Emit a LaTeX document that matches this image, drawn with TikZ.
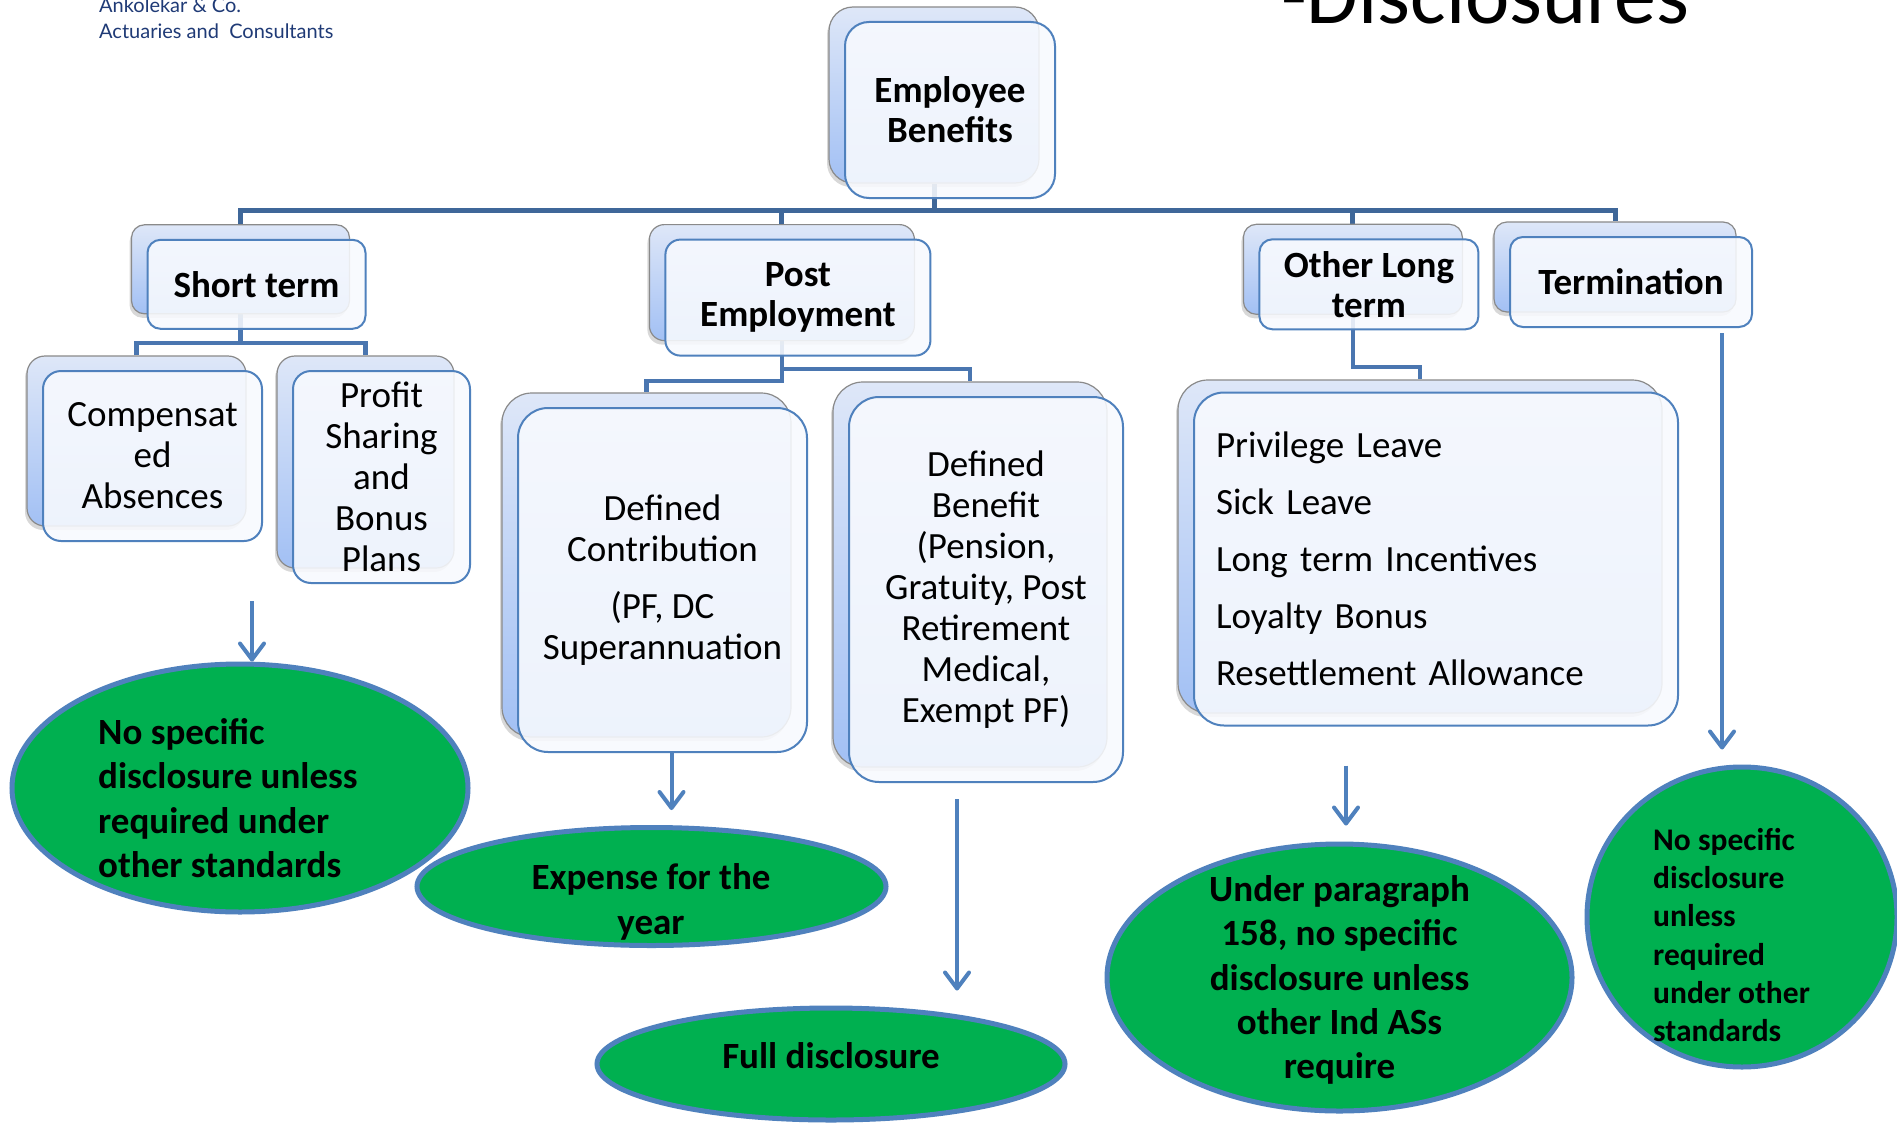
\documentclass[tikz,border=0pt]{standalone}
\usepackage{fontspec}
\setmainfont{Carlito}
\newfontfamily\logofont{Lato}
\usetikzlibrary{arrows.meta,shadows,shapes.geometric}
\definecolor{bkTop}{HTML}{DEE7F8}
\definecolor{bkBot}{HTML}{A2C0F4}
\definecolor{bkLine}{HTML}{8A8A8A}
\definecolor{frLine}{HTML}{4F81BD}
\definecolor{frFill}{HTML}{F8FAFE}
\definecolor{busCol}{HTML}{3F6799}
\definecolor{wireCol}{HTML}{4A76B0}
\definecolor{arrCol}{HTML}{4F81BD}
\definecolor{ellFill}{HTML}{00B050}
\definecolor{ellLine}{HTML}{4F81BD}
\definecolor{navy}{HTML}{1F3A76}
\newcommand\fReg{\fontsize{37}{41}\selectfont}
\newcommand\fBold{\fontsize{37}{40}\selectfont\bfseries}
\newcommand\fList{\fontsize{37}{57}\selectfont}
\newcommand\fEll{\fontsize{37}{44.3}\selectfont\bfseries}
\newcommand\fEllS{\fontsize{31.5}{38.3}\selectfont\bfseries}
\newcommand\fLogo{\logofont\fontsize{20}{24}\selectfont}
\pgfdeclarelayer{paper}
\pgfdeclarelayer{wires}
\pgfsetlayers{paper,wires,main}
\tikzset{
  backbox/.style={draw=bkLine, line width=1.2pt, rounded corners=#1,
    top color=bkTop, bottom color=bkBot,
    drop shadow={shadow xshift=-2pt, shadow yshift=-4pt, opacity=0.3}},
  frontbox/.style={draw=frLine, line width=2pt, rounded corners=#1,
    fill=frFill, fill opacity=0.88, text opacity=1, align=center, inner sep=0pt},
  busline/.style={draw=busCol, line width=5pt},
  wire/.style={draw=wireCol, line width=4.5pt},
  arr/.style={draw=arrCol, line width=4pt, -{Straight Barb[length=16pt, width=24pt, round]}},
  ell/.style={ellipse, draw=ellLine, line width=5pt, fill=ellFill, inner sep=0pt},
  etxt/.style={inner sep=0pt, text=black}
}
\begin{document}
\begin{tikzpicture}[x=1pt,y=-1pt]
\begin{pgfonlayer}{paper}
\fill[white] (0,0) rectangle (1897,1124);
\end{pgfonlayer}
\useasboundingbox (0,0) rectangle (1897,1124);

% header texts
\node[anchor=base west, inner sep=0pt, font=\fLogo, text=navy] (logoA) at (99,13) {Ankolekar \& Co.};
\node[anchor=base west, inner sep=0pt, font=\fLogo, text=navy] (logoB) at (99,38) {Actuaries and\ \ Consultants};
\node[anchor=base west, inner sep=0pt, font=\fontsize{84}{90}\selectfont] (title) at (1281,24) {-Disclosures};

% back boxes
\node[backbox=24pt, minimum width=210pt, minimum height=176pt] (rootB) at (934,95) {};
\node[backbox=13pt, minimum width=218pt, minimum height=89pt] (stB) at (240.5,269.3) {};
\node[backbox=15pt, minimum width=265pt, minimum height=116pt] (peB) at (781.9,282.6) {};
\node[backbox=13pt, minimum width=219pt, minimum height=90pt] (olB) at (1352.9,269.3) {};
\node[backbox=13pt, minimum width=242pt, minimum height=90pt] (tmB) at (1615,267) {};
\node[backbox=18pt, minimum width=219pt, minimum height=170pt] (cpB) at (136.5,441) {};
\node[backbox=18pt, minimum width=177pt, minimum height=212pt] (pfB) at (365.5,462) {};
\node[backbox=30pt, minimum width=289pt, minimum height=344pt] (dcB) at (646.5,565) {};
\node[backbox=30pt, minimum width=274pt, minimum height=385pt] (dbB) at (970,574.5) {};
\node[backbox=30pt, minimum width=484pt, minimum height=333pt] (lstB) at (1420,546.5) {};

% connectors
\begin{pgfonlayer}{wires}
\coordinate (busJ) at (934,210);
\draw[busline] (rootB.south) -- (busJ);
\draw[busline] (stB.north) |- (busJ) -| (tmB.north);
\draw[busline] (peB.north |- busJ) -- (peB.north);
\draw[busline] (olB.north |- busJ) -- (olB.north);
\coordinate (stJ) at (240.5,343);
\draw[wire] (stB.south) -- (stJ);
\draw[wire] (cpB.north) |- (stJ) -| (pfB.north);
\coordinate (peL) at (781.9,381);
\coordinate (peR) at (781.9,369);
\draw[wire] (peB.south) -- (peL) -| (dcB.north);
\draw[wire] (peR) -| (dbB.north);
\coordinate (olJ) at (1352.9,367);
\draw[wire] (olB.south) -- (olJ) -| (lstB.north);
\end{pgfonlayer}

% front boxes
\node[frontbox=24pt, minimum width=210pt, minimum height=176pt, font=\fBold] (root) at (950,110) {Employee\\Benefits};
\node[frontbox=13pt, minimum width=218pt, minimum height=89pt, font=\fBold] (st) at (256.5,284.3) {Short term};
\node[frontbox=15pt, minimum width=265pt, minimum height=116pt, font=\fBold] (pe) at (797.9,297.6) {Post\\Employment};
\node[frontbox=13pt, minimum width=219pt, minimum height=90pt, font=\fBold] (ol) at (1368.9,284.3) {Other Long\\term};
\node[frontbox=13pt, minimum width=242pt, minimum height=90pt, font=\fBold] (tm) at (1631,282) {Termination};
\node[frontbox=18pt, minimum width=219pt, minimum height=170pt, font=\fReg] (cp) at (152.5,456) {Compensat\\ed\\Absences};
\node[frontbox=18pt, minimum width=177pt, minimum height=212pt, font=\fReg] (pf) at (381.5,477) {Profit\\Sharing\\and\\Bonus\\Plans};
\node[frontbox=30pt, minimum width=289pt, minimum height=344pt, font=\fReg] (dc) at (662.5,580) {Defined\\Contribution\\[16pt](PF, DC\\Superannuation};
\node[frontbox=30pt, minimum width=274pt, minimum height=385pt, font=\fReg] (db) at (986,589.5) {Defined\\Benefit\\(Pension,\\Gratuity, Post\\Retirement\\Medical,\\Exempt PF)};
\node[frontbox=30pt, minimum width=484pt, minimum height=333pt, font=\fList, align=left, text width=440pt] (lst) at (1436,559) {Privilege Leave\\Sick Leave\\Long term Incentives\\Loyalty Bonus\\Resettlement Allowance};

% outcome ellipses
\node[ell, minimum width=456pt, minimum height=248pt] (e1) at (240,788) {};
\node[ell, minimum width=469pt, minimum height=118pt] (e2) at (651.5,886.5) {};
\node[ell, minimum width=468pt, minimum height=112pt] (e3) at (831,1064) {};
\node[ell, minimum width=465pt, minimum height=267pt] (e4) at (1339.5,977.5) {};
\node[ell, minimum width=310pt, minimum height=300pt] (e5) at (1742,917) {};

\node[etxt, anchor=west, align=left, font=\fEll] (e1t) at (98,798) {No specific\\disclosure unless\\required under\\other standards};
\node[etxt, align=center, font=\fEll] (e2t) at (651,902) {Expense for the\\year};
\node[etxt, align=center, font=\fEll] (e3t) at (831,1056) {Full disclosure};
\node[etxt, align=center, font=\fEll] (e4t) at (1339.5,980) {Under paragraph\\158, no specific\\disclosure unless\\other Ind ASs\\require};
\node[etxt, anchor=west, align=left, font=\fEllS] (e5t) at (1653,935) {No specific\\disclosure\\unless\\required\\under other\\standards};

% arrows
\coordinate (a1s) at (252,601);
\draw[arr] (a1s) -- (a1s |- e1.north);
\draw[arr, shorten >=15pt] ([xshift=9pt]dc.south) -- ([xshift=9pt]dc.south |- e2.north);
\draw[arr, shorten <=16pt, shorten >=15pt] ([xshift=-29pt]db.south) -- ([xshift=-29pt]db.south |- e3.north);
\draw[arr, shorten <=39pt, shorten >=16pt] ([xshift=-90pt]lst.south) -- ([xshift=-90pt]lst.south |- e4.north);
\draw[arr, shorten <=5pt, shorten >=15pt] ([xshift=91pt]tm.south) -- ([xshift=91pt]tm.south |- e5.north);
\end{tikzpicture}
\end{document}
